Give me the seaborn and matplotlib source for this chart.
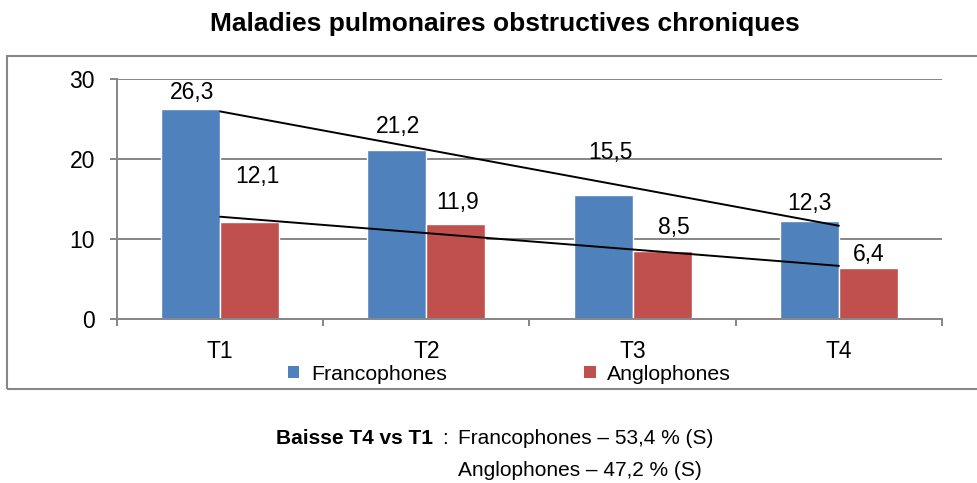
import numpy as np
import pandas as pd
import seaborn as sns
import matplotlib.pyplot as plt
from matplotlib.patches import Rectangle

# data
periods = ['T1', 'T2', 'T3', 'T4']
franco = [26.3, 21.2, 15.5, 12.3]
anglo = [12.1, 11.9, 8.5, 6.4]
groups = ['Francophones', 'Anglophones']
colors = ['#4F81BD', '#C0504D']

# label nudges (pixels) so the numbers sit where they were placed in the original
franco_off = [(1, 16), (1, 23), (7, 43), (0, 17)]
anglo_off = [(8, 46), (2, 21), (12, 24), (0, 13)]

df = pd.DataFrame({
    'period': periods * 2,
    'value': franco + anglo,
    'group': [groups[0]] * 4 + [groups[1]] * 4,
})

sns.set_theme(style='white')
plt.rcParams['font.family'] = ['Liberation Sans', 'DejaVu Sans']
plt.rcParams['text.color'] = 'black'
plt.rcParams['xtick.color'] = 'black'
plt.rcParams['ytick.color'] = 'black'

fig = plt.figure(figsize=(9.78, 4.83), dpi=100)
ax = fig.add_axes([117 / 978, 1 - 319 / 483, (942 - 117) / 978, (319 - 79.3) / 483])

sns.barplot(data=df, x='period', y='value', hue='group', palette=colors,
            width=0.573, saturation=1, ax=ax, legend=True)

grey = '#868686'
ax.set_ylim(0, 30)
ax.set_xlim(-0.5, 3.5)
ax.set_yticks([0, 10, 20, 30])
ax.yaxis.grid(True, color=grey, linewidth=1.4)
ax.set_axisbelow(True)
ax.set_xlabel('')
ax.set_ylabel('')
for s in ['top', 'right']:
    ax.spines[s].set_visible(False)
for s in ['left', 'bottom']:
    ax.spines[s].set_color(grey)
    ax.spines[s].set_linewidth(1.4)

ax.tick_params(axis='y', left=True, length=5, width=1.4, color=grey, pad=11,
               labelsize=16.5, labelcolor='black')
ax.set_xticks(np.arange(4))
ax.set_xticklabels(periods)
ax.set_xticks(np.arange(-0.5, 4, 1), minor=True)
ax.tick_params(axis='x', which='major', length=0, pad=15, labelsize=16.5,
               labelcolor='black')
ax.tick_params(axis='x', which='minor', bottom=True, length=5, width=1.4, color=grey)

# value labels
for cont, vals, offs in zip(ax.containers, [franco, anglo], [franco_off, anglo_off]):
    for bar, v, (dx, dy) in zip(cont, vals, offs):
        ax.annotate(f'{v:.1f}'.replace('.', ','),
                    (bar.get_x() + bar.get_width() / 2, v),
                    xytext=(dx, dy), textcoords='offset pixels',
                    ha='center', va='center', fontsize=16.5, color='black')

# linear trend lines
xs = np.arange(4)
for vals in [franco, anglo]:
    k, b = np.polyfit(xs, vals, 1)
    ax.plot([0, 3], [b, k * 3 + b], color='black', linewidth=1.4)

# legend below the axis
leg = ax.legend(loc='center left', bbox_to_anchor=(277 / 978, 1 - 374 / 483),
                bbox_transform=fig.transFigure, ncol=2, frameon=False,
                fontsize=15.3, handlelength=0.55, handleheight=0.55,
                handletextpad=0.55, columnspacing=6.45, borderpad=0)
for h in leg.legend_handles:
    h.set_edgecolor('none')

# outer chart frame
fig.patches.append(Rectangle((7 / 978, 1 - 389 / 483), 975 / 978, (389 - 55.7) / 483,
                             transform=fig.transFigure, fill=False,
                             edgecolor='#878787', linewidth=1.5))

fig.text(505 / 978, 1 - 24 / 483, 'Maladies pulmonaires obstructives chroniques',
         ha='center', va='center', fontsize=19, fontweight='bold')

fig.text(276 / 978, 1 - 438 / 483, 'Baisse T4 vs T1', ha='left', va='center',
         fontsize=15, fontweight='bold')
fig.text(442 / 978, 1 - 438 / 483, ':', ha='left', va='center', fontsize=15)
fig.text(458 / 978, 1 - 438 / 483, 'Francophones \u2013 53,4 % (S)', ha='left',
         va='center', fontsize=15)
fig.text(458 / 978, 1 - 470 / 483, 'Anglophones \u2013 47,2 % (S)', ha='left',
         va='center', fontsize=15)

fig.savefig('out.png', dpi=100)
